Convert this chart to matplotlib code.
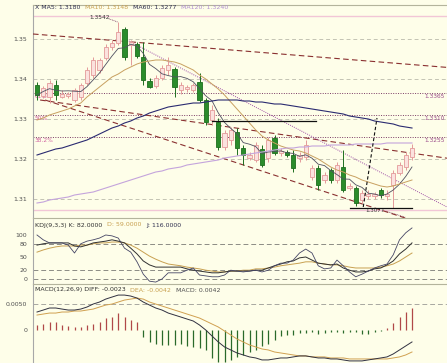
import matplotlib
matplotlib.use("Agg")
import matplotlib.pyplot as plt
from matplotlib.patches import Rectangle
import numpy as np
import pandas as pd

# ---- candles ----
opens = [1.33850, 1.33575, 1.33550, 1.33850, 1.33550, 1.33575, 1.33475, 1.33550, 1.33900, 1.34100,
         1.34225, 1.34525, 1.34800, 1.34900, 1.35250, 1.34850, 1.34875, 1.34550, 1.33950, 1.33825,
         1.34025, 1.34225, 1.34250, 1.33725, 1.33750, 1.33725, 1.33925, 1.33475, 1.32975, 1.32925,
         1.32300, 1.32475, 1.32675, 1.32275, 1.32025, 1.31975, 1.32250, 1.32025, 1.32525, 1.32150,
         1.32175, 1.32100, 1.32025, 1.32050, 1.31550, 1.31775, 1.31475, 1.31725, 1.31475, 1.31800,
         1.31275, 1.31275, 1.30975, 1.31075, 1.31075, 1.31225, 1.31075, 1.31350, 1.31650, 1.31800,
         1.32050]
highs = [1.33925, 1.33825, 1.33975, 1.33975, 1.33725, 1.33675, 1.33775, 1.33900, 1.34300, 1.34550,
         1.34525, 1.34875, 1.34975, 1.35425, 1.35300, 1.34975, 1.34925, 1.34925, 1.34025, 1.34100,
         1.34350, 1.34550, 1.34300, 1.33925, 1.33850, 1.33900, 1.34150, 1.33525, 1.33350, 1.33025,
         1.32725, 1.32800, 1.32775, 1.32350, 1.32175, 1.32425, 1.32350, 1.32550, 1.32600, 1.32275,
         1.32225, 1.32225, 1.32175, 1.32475, 1.31850, 1.31850, 1.31675, 1.31775, 1.31925, 1.32225,
         1.31400, 1.31325, 1.31225, 1.31225, 1.31175, 1.31275, 1.31225, 1.31725, 1.31925, 1.32175,
         1.32375]
lows = [1.33475, 1.33525, 1.33400, 1.33475, 1.33525, 1.33525, 1.33425, 1.33475, 1.33850, 1.34025,
        1.34150, 1.34475, 1.34725, 1.34850, 1.34475, 1.34350, 1.34525, 1.33850, 1.33775, 1.33775,
        1.33975, 1.34100, 1.33550, 1.33625, 1.33675, 1.33675, 1.33425, 1.32850, 1.32850, 1.32225,
        1.32225, 1.32350, 1.32100, 1.31850, 1.31975, 1.31925, 1.31800, 1.31925, 1.32100, 1.32075,
        1.32050, 1.31675, 1.31925, 1.31975, 1.31475, 1.31225, 1.31400, 1.31400, 1.31400, 1.31175,
        1.31225, 1.30825, 1.30900, 1.31000, 1.31000, 1.31025, 1.30975, 1.30775, 1.31600, 1.31725,
        1.31975]
closes = [1.33600, 1.33775, 1.33900, 1.33600, 1.33625, 1.33625, 1.33725, 1.33850, 1.34225, 1.34475,
          1.34475, 1.34800, 1.34900, 1.35175, 1.34550, 1.34925, 1.34575, 1.33975, 1.33800, 1.34025,
          1.34275, 1.34350, 1.33800, 1.33850, 1.33800, 1.33850, 1.33475, 1.32925, 1.33225, 1.32300,
          1.32650, 1.32725, 1.32275, 1.32100, 1.32100, 1.32350, 1.31850, 1.32475, 1.32150, 1.32200,
          1.32100, 1.31775, 1.32100, 1.32350, 1.31775, 1.31350, 1.31600, 1.31475, 1.31850, 1.31225,
          1.31325, 1.30900, 1.31150, 1.31125, 1.31125, 1.31100, 1.31125, 1.31650, 1.31850, 1.32100,
          1.32275]

# moving averages
ma10 = [1.32975, 1.33025, 1.33100, 1.33150, 1.33200, 1.33250, 1.33325, 1.33400, 1.33550, 1.33675,
        1.33800, 1.33925, 1.34050, 1.34125, 1.34225, 1.34300, 1.34375, 1.34425, 1.34450, 1.34475,
        1.34475, 1.34450, 1.34425, 1.34375, 1.34300, 1.34225, 1.34100, 1.34000, 1.33875, 1.33750,
        1.33600, 1.33425, 1.33250, 1.33075, 1.32900, 1.32725, 1.32575, 1.32475, 1.32400, 1.32325,
        1.32275, 1.32225, 1.32200, 1.32150, 1.32075, 1.32000, 1.31900, 1.31800, 1.31725, 1.31675,
        1.31600, 1.31550, 1.31475, 1.31425, 1.31375, 1.31325, 1.31300, 1.31325, 1.31375, 1.31425,
        1.31475]
ma60 = [1.32100, 1.32150, 1.32200, 1.32250, 1.32275, 1.32325, 1.32375, 1.32425, 1.32475, 1.32550,
        1.32625, 1.32700, 1.32775, 1.32825, 1.32900, 1.32950, 1.33025, 1.33075, 1.33150, 1.33200,
        1.33250, 1.33300, 1.33325, 1.33350, 1.33375, 1.33400, 1.33400, 1.33425, 1.33450, 1.33475,
        1.33475, 1.33475, 1.33475, 1.33450, 1.33450, 1.33425, 1.33425, 1.33400, 1.33375, 1.33375,
        1.33350, 1.33325, 1.33300, 1.33275, 1.33250, 1.33225, 1.33200, 1.33175, 1.33150, 1.33125,
        1.33075, 1.33050, 1.33025, 1.33000, 1.32950, 1.32925, 1.32900, 1.32875, 1.32825, 1.32800,
        1.32775]
ma120 = [1.30900, 1.30925, 1.30975, 1.31000, 1.31025, 1.31050, 1.31100, 1.31125, 1.31150, 1.31175,
         1.31225, 1.31275, 1.31325, 1.31375, 1.31425, 1.31475, 1.31525, 1.31575, 1.31625, 1.31675,
         1.31700, 1.31750, 1.31775, 1.31800, 1.31850, 1.31875, 1.31900, 1.31925, 1.31950, 1.31975,
         1.32025, 1.32050, 1.32075, 1.32100, 1.32125, 1.32150, 1.32175, 1.32200, 1.32225, 1.32250,
         1.32275, 1.32275, 1.32300, 1.32300, 1.32325, 1.32325, 1.32325, 1.32350, 1.32350, 1.32350,
         1.32350, 1.32375, 1.32375, 1.32375, 1.32375, 1.32375, 1.32400, 1.32400, 1.32400, 1.32400,
         1.32400]

# KDJ
k_line = [77, 80, 82, 82, 82, 82, 75, 73, 77, 82, 84, 86, 89, 86, 82, 70, 57, 41, 32, 27,
          27, 27, 27, 27, 23, 20, 18, 16, 14, 14, 16, 18, 18, 18, 18, 20, 20, 25, 30, 34,
          39, 41, 48, 50, 43, 36, 34, 32, 34, 25, 20, 16, 16, 18, 23, 25, 32, 41, 57, 68, 82]
d_line = [61, 66, 70, 73, 75, 75, 75, 77, 77, 80, 82, 82, 84, 84, 82, 77, 70, 61, 52, 45,
          39, 34, 32, 30, 27, 25, 23, 20, 18, 16, 16, 18, 18, 20, 20, 23, 23, 25, 27, 30,
          32, 34, 36, 39, 39, 36, 34, 32, 32, 30, 27, 25, 25, 25, 25, 27, 30, 34, 41, 50, 59]
j_line = [100, 89, 82, 82, 82, 77, 59, 80, 86, 89, 93, 100, 98, 93, 70, 61, 39, 11, -5, -7,
          0, 14, 14, 14, 20, 25, 9, 7, 5, 5, 9, 20, 18, 16, 18, 20, 16, 20, 30, 36,
          36, 43, 59, 68, 59, 30, 23, 25, 43, 30, 16, 5, 11, 18, 25, 30, 34, 55, 89, 105, 116]

# MACD
diff = [0.00346, 0.00384, 0.00423, 0.00423, 0.00403, 0.00384, 0.00384, 0.00403, 0.00442, 0.00500,
        0.00538, 0.00595, 0.00634, 0.00672, 0.00672, 0.00653, 0.00614, 0.00538, 0.00480, 0.00423,
        0.00384, 0.00326, 0.00288, 0.00250, 0.00211, 0.00173, 0.00096, 0.00000, -0.00115, -0.00230,
        -0.00326, -0.00384, -0.00442, -0.00480, -0.00518, -0.00538, -0.00576, -0.00576, -0.00557, -0.00538,
        -0.00538, -0.00518, -0.00499, -0.00499, -0.00518, -0.00538, -0.00538, -0.00557, -0.00557, -0.00576,
        -0.00595, -0.00595, -0.00595, -0.00576, -0.00557, -0.00538, -0.00518, -0.00461, -0.00384, -0.00307,
        -0.00230]
dea = [0.00288, 0.00307, 0.00326, 0.00326, 0.00346, 0.00346, 0.00365, 0.00365, 0.00384, 0.00403,
       0.00442, 0.00480, 0.00499, 0.00538, 0.00576, 0.00595, 0.00614, 0.00595, 0.00538, 0.00499,
       0.00461, 0.00423, 0.00384, 0.00346, 0.00307, 0.00269, 0.00230, 0.00173, 0.00115, 0.00058,
       -0.00019, -0.00096, -0.00173, -0.00230, -0.00288, -0.00326, -0.00365, -0.00384, -0.00423, -0.00442,
       -0.00461, -0.00480, -0.00499, -0.00499, -0.00518, -0.00518, -0.00518, -0.00538, -0.00538, -0.00538,
       -0.00557, -0.00557, -0.00557, -0.00557, -0.00557, -0.00557, -0.00557, -0.00538, -0.00518, -0.00480,
       -0.00423]
hist = [0.00096, 0.00115, 0.00154, 0.00154, 0.00096, 0.00077, 0.00058, 0.00058, 0.00096, 0.00115,
        0.00154, 0.00230, 0.00250, 0.00326, 0.00250, 0.00192, 0.00154, -0.00134, -0.00230, -0.00269,
        -0.00288, -0.00288, -0.00288, -0.00269, -0.00307, -0.00326, -0.00346, -0.00384, -0.00538, -0.00614,
        -0.00614, -0.00576, -0.00518, -0.00480, -0.00422, -0.00384, -0.00307, -0.00269, -0.00192, -0.00115,
        -0.00096, -0.00096, -0.00058, -0.00058, -0.00038, -0.00077, -0.00058, -0.00038, -0.00038, -0.00058,
        -0.00038, -0.00038, -0.00077, -0.00077, -0.00038, -0.00019, 0.00038, 0.00134, 0.00250, 0.00346,
        0.00422]

price_ticks = [1.35, 1.34, 1.33, 1.32, 1.31]
range_lines = [1.35575, 1.30725]
fib_ratios = [0.618, 0.5, 0.382]
fib_names = ["61.8%", "50%", "38.2%"]
kdj_ticks = [100, 80, 50, 20, 0]
kdj_dashed = [80, 20, 0]
macd_ticks = [0.005, 0]
macd_labels = ["0.0050", "0"]

# drawn objects: ((bar0, price0), (bar1, price1))
dash_lines = [((-0.64, 1.35125), (65.6, 1.34290)),
              ((0.5, 1.33475), (65.6, 1.32020)),
              ((1.3, 1.33475), (58.9, 1.30525))]
dot_lines = [((14.4, 1.34975), (65.6, 1.30800))]
black_lines = [((28.0, 1.32950), (44.6, 1.32950)),
               ((50.0, 1.30775), (60.0, 1.30775))]
black_dash = [((52.2, 1.30800), (54.4, 1.33025))]

BG = "#fefee9"
W, H = 447, 363
FS = 4.5
plt.rcParams["font.family"] = ["DejaVu Sans"]

fig = plt.figure(figsize=(W / 100, H / 100), dpi=100, facecolor=BG)
left = 33 / W
ax = fig.add_axes([left, 1 - 218 / H, 1 - left, 213 / H], facecolor=BG)
ax_k = fig.add_axes([left, 1 - 284 / H, 1 - left, 66 / H], facecolor=BG)
ax_m = fig.add_axes([left, 0, 1 - left, 79 / H], facecolor=BG)

n = len(closes)
idx = np.arange(n)
for a in (ax, ax_k, ax_m):
    a.set_xlim(-0.64, 65.6)
    a.spines["right"].set_visible(False)
    a.spines["bottom"].set_visible(False)
    a.spines["left"].set_color("#a8a8a8")
    a.spines["top"].set_color("#b4b49c")
    a.spines["left"].set_linewidth(0.8)
    a.spines["top"].set_linewidth(0.8)
    a.set_xticks([])
    a.tick_params(axis="y", length=0, pad=4, labelsize=FS, labelcolor="#505050")


def header(a, parts, dy):
    r = fig.canvas.get_renderer()
    x = 0.004
    y = 1 - dy / a.bbox.height
    for s, c in parts:
        t = a.text(x, y, s, transform=a.transAxes, fontsize=FS, color=c,
                   va="center", ha="left", zorder=10)
        bb = t.get_window_extent(renderer=r)
        x += bb.width / a.bbox.width + 0.012


# ---- main panel ----
ax.set_ylim(1.30525, 1.35850)
ax.set_yticks(price_ticks)
ax.set_yticklabels(["%.2f" % p for p in price_ticks])
for p in price_ticks:
    ax.axhline(p, color="#c4c4b4", lw=0.7, ls=(0, (4, 3)), zorder=1)
for p in range_lines:
    ax.axhline(p, color="#f2c6d6", lw=1.0, zorder=1)

hi, lo = max(highs), min(lows)
for r, name in zip(fib_ratios, fib_names):
    lvl = lo + r * (hi - lo)
    ax.axhline(lvl, color="#7a3a64", lw=0.7, ls=(0, (1, 1.5)), zorder=2)
    ax.text(-0.35, lvl - 0.0002, name, color="#d060a0", fontsize=4.2, va="top", ha="left")
    ax.text(65.3, lvl - 0.0002, "%.4f" % lvl, color="#9a4a8a", fontsize=4.2, va="top", ha="right")

for (x0, y0), (x1, y1) in dash_lines:
    ax.plot([x0, x1], [y0, y1], color="#8a3030", lw=0.8, ls=(0, (5, 3)), zorder=3)
for (x0, y0), (x1, y1) in dot_lines:
    ax.plot([x0, x1], [y0, y1], color="#a050a8", lw=0.7, ls=(0, (1, 1.2)), zorder=3)

for i in idx:
    o, h, l, c = opens[i], highs[i], lows[i], closes[i]
    up = c >= o
    ec = "#e49a9a" if up else "#1e6e1e"
    fc = "#fbe2de" if up else "#2b8c2b"
    ax.vlines(i, l, h, color=ec, lw=0.7, zorder=4)
    ax.add_patch(Rectangle((i - 0.35, min(o, c)), 0.7, max(abs(c - o), 0.00005),
                           facecolor=fc, edgecolor=ec, lw=0.6, zorder=5))

ma5 = pd.Series(closes).rolling(5, min_periods=1).mean()
ax.plot(idx, ma5, color="#505060", lw=0.6, zorder=6)
ax.plot(idx, ma10, color="#c8a060", lw=0.7, zorder=6)
ax.plot(idx, ma60, color="#2a2a70", lw=0.8, zorder=6)
ax.plot(idx, ma120, color="#c4a4dc", lw=0.8, zorder=6)

for (x0, y0), (x1, y1) in black_lines:
    ax.plot([x0, x1], [y0, y1], color="#101010", lw=0.9, zorder=7)
for (x0, y0), (x1, y1) in black_dash:
    ax.plot([x0, x1], [y0, y1], color="#101010", lw=0.8, ls=(0, (3, 2)), zorder=7)

# high / low markers
hi_i = int(np.argmax(highs))
lo_i = int(np.argmin(lows))
ax.text(hi_i - 3.0, hi + 0.0012, "%.4f" % hi, fontsize=4.2, color="#303030", ha="center", va="center")
ax.plot([hi_i - 1.5, hi_i - 0.1], [hi + 0.0008, hi], color="#7a3a64", lw=0.6, ls=(0, (1, 1)))
ax.text(lo_i - 3.0, lo - 0.0007, "%.4f" % lo, fontsize=4.0, color="#303030", ha="center", va="center")
ax.plot([lo_i - 1.2, lo_i + 1.9], [lo - 0.0008, lo - 0.0023], color="#7a3a64", lw=0.6, ls=(0, (1, 1)))

header(ax, [("X MA5: %.4f" % ma5.iloc[-1], "#303050"),
            ("MA10: %.4f" % ma10[-1], "#c8a050"),
            ("MA60: %.4f" % ma60[-1], "#303050"),
            ("MA120: %.4f" % ma120[-1], "#b090d0")], 3)

# ---- KDJ ----
ax_k.set_ylim(-11.4, 138.6)
ax_k.set_yticks(kdj_ticks)
ax_k.set_yticklabels([str(v) for v in kdj_ticks])
for v in kdj_dashed:
    ax_k.axhline(v, color="#8c8c84", lw=0.7, ls=(0, (5, 3)), zorder=1)
ax_k.plot(idx, d_line, color="#c8a050", lw=0.7, zorder=3)
ax_k.plot(idx, k_line, color="#303030", lw=0.7, zorder=3)
ax_k.plot(idx, j_line, color="#454565", lw=0.6, zorder=3)
header(ax_k, [("KDJ(9,3,3) K: %.4f" % k_line[-1], "#303030"),
              ("D: %.4f" % d_line[-1], "#c8a050"),
              ("J: %.4f" % j_line[-1], "#303050")], 7)

# ---- MACD ----
ax_m.set_ylim(-0.00635, 0.00885)
ax_m.set_yticks(macd_ticks)
ax_m.set_yticklabels(macd_labels)
ax_m.axhline(0.005, color="#a8a8a0", lw=0.7, ls=(0, (5, 3)), zorder=1)
bar_cols = ["#b04848" if v > 0 else "#2a6a2a" for v in hist]
ax_m.vlines(idx, 0, hist, colors=bar_cols, lw=0.9, zorder=2)
ax_m.plot(idx, dea, color="#d0a050", lw=0.7, zorder=3)
ax_m.plot(idx, diff, color="#303040", lw=0.7, zorder=3)
header(ax_m, [("MACD(12,26,9) DIFF: %.4f" % diff[-1], "#303030"),
              ("DEA: %.4f" % dea[-1], "#c8a050"),
              ("MACD: %.4f" % hist[-1], "#505050")], 6)

fig.savefig("out.png", dpi=100, facecolor=BG)
